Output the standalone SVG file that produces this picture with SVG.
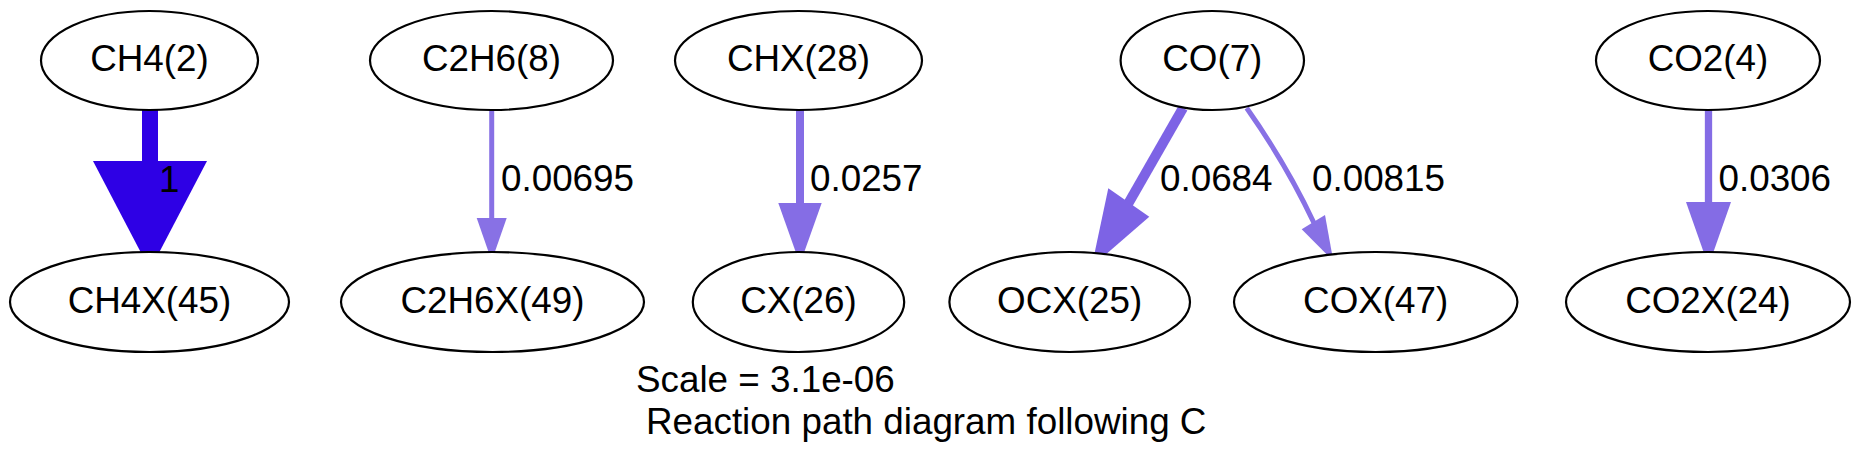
<svg xmlns="http://www.w3.org/2000/svg" width="1860" height="469" viewBox="0 0 1860 469">
<style>
.n ellipse{fill:#fff;stroke:#000;stroke-width:2.2}
text{font-family:"Liberation Sans",Arial,sans-serif;font-size:36.8px;fill:#000}
.n text{text-anchor:middle}
.e line,.e path{fill:none}
</style>
<rect width="1860" height="469" fill="#fff"/>
<g id="connectors" class="e">
<g id="e1"><line x1="150" y1="110" x2="150" y2="162" stroke="#2e00e5" stroke-width="16"/><polygon points="93,161 207,161 150,270" fill="#2e00e5"/><text x="159" y="192">1</text></g>
<g id="e2"><line x1="491.7" y1="110" x2="491.7" y2="219" stroke="#8871e5" stroke-width="5"/><polygon points="476.7,218 506.7,218 491.7,261" fill="#8871e5"/><text x="501" y="190.7">0.00695</text></g>
<g id="e3"><line x1="800" y1="110" x2="800" y2="204" stroke="#856de5" stroke-width="8"/><polygon points="778.3,203 821.7,203 800,264" fill="#856de5"/><text x="810" y="190.7">0.0257</text></g>
<g id="e4"><line x1="1183" y1="108" x2="1128" y2="204" stroke="#7d63e5" stroke-width="10"/><polygon points="1108.3,188.3 1149.3,216.7 1091.7,266.7" fill="#7d63e5"/><text x="1160" y="190.7">0.0684</text></g>
<g id="e5"><path d="M1246.7,108 C1265,134 1290,172 1314,223" stroke="#8871e5" stroke-width="5"/><polygon points="1301.7,229.3 1325,215 1333.3,261" fill="#8871e5"/><text x="1312" y="190.7">0.00815</text></g>
<g id="e6"><line x1="1708.5" y1="110" x2="1708.5" y2="203" stroke="#846ce5" stroke-width="7.3"/><polygon points="1686,202 1731,202 1708.5,266" fill="#846ce5"/><text x="1718.5" y="190.7">0.0306</text></g>
</g>
<g id="CH4" class="n"><ellipse cx="149.5" cy="60.5" rx="108.5" ry="49.5"/><text x="149.5" y="70.7">CH4(2)</text></g>
<g id="CH4X" class="n"><ellipse cx="149.5" cy="302" rx="139.5" ry="50"/><text x="149.5" y="312.7">CH4X(45)</text></g>
<g id="C2H6" class="n"><ellipse cx="491.5" cy="60.5" rx="121.5" ry="49.5"/><text x="491.5" y="70.7">C2H6(8)</text></g>
<g id="C2H6X" class="n"><ellipse cx="492.5" cy="302" rx="151.5" ry="50"/><text x="492.5" y="312.7">C2H6X(49)</text></g>
<g id="CHX" class="n"><ellipse cx="798.5" cy="60.5" rx="123.5" ry="49.5"/><text x="798.5" y="70.7">CHX(28)</text></g>
<g id="CX" class="n"><ellipse cx="798.5" cy="302" rx="105.7" ry="50"/><text x="798.5" y="312.7">CX(26)</text></g>
<g id="CO" class="n"><ellipse cx="1212.3" cy="60.5" rx="91.7" ry="49.5"/><text x="1212.3" y="70.7">CO(7)</text></g>
<g id="OCX" class="n"><ellipse cx="1069.7" cy="302" rx="120.3" ry="50"/><text x="1069.7" y="312.7">OCX(25)</text></g>
<g id="COX" class="n"><ellipse cx="1375.7" cy="302" rx="141.7" ry="50"/><text x="1375.7" y="312.7">COX(47)</text></g>
<g id="CO2" class="n"><ellipse cx="1708" cy="60.5" rx="112" ry="49.5"/><text x="1708" y="70.7">CO2(4)</text></g>
<g id="CO2X" class="n"><ellipse cx="1708" cy="302" rx="142" ry="50"/><text x="1708" y="312.7">CO2X(24)</text></g>
<g id="footer"><text x="636" y="392">Scale = 3.1e-06</text><text x="646" y="433.5">Reaction path diagram following C</text></g>
</svg>
